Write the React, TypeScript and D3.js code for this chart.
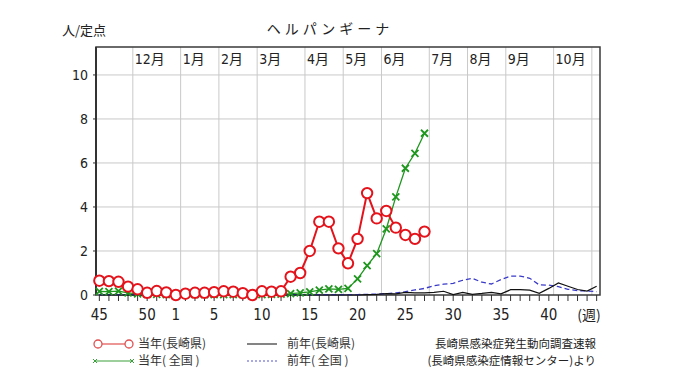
import React from "react";
import * as d3 from "d3";

const weeks = ["45","46","47","48","49","50","51","52","1","2","3","4","5","6","7","8","9","10","11","12","13","14","15","16","17","18","19","20","21","22","23","24","25","26","27","28","29","30","31","32","33","34","35","36","37","38","39","40","41","42","43","44","45"];
const weekLabels = ["45","50","1","5","10","15","20","25","30","35","40"];
const labelIdx = [0, 5, 8, 12, 17, 22, 27, 32, 37, 42, 47];
const monthLines = [3.5, 8.5, 12.5, 16.5, 21.5, 25.5, 29.5, 34.5, 38.5, 42.5, 47.5, 51.5];
const monthLabels = ["12月","1月","2月","3月","4月","5月","6月","7月","8月","9月","10月",""];
const yTicks = [0, 2, 4, 6, 8, 10];

const curNagasaki = [0.65,0.63,0.6,0.38,0.26,0.1,0.18,0.12,0.0,0.06,0.1,0.1,0.13,0.17,0.15,0.08,0.0,0.17,0.15,0.17,0.83,1.0,2.0,3.33,3.33,2.12,1.44,2.55,4.63,3.48,3.82,3.06,2.73,2.55,2.88];
const curNational = [0.16,0.15,0.18,0.1,0.05,0.03,0.03,0.02,0.02,0.02,0.02,0.02,0.02,0.02,0.02,0.02,0.02,0.02,0.03,0.04,0.06,0.1,0.14,0.22,0.28,0.26,0.3,0.73,1.33,1.88,3.0,4.46,5.76,6.44,7.35];
const prevNagasaki = [0,0,0,0,0,0,0,0,0,0,0,0,0,0,0,0,0,0,0,0,0,0,0,0,0,0,0,0,0.02,0.03,0.06,0.05,0.12,0.1,0.1,0.12,0.17,0.02,0.12,0.03,0.07,0.12,0.05,0.24,0.24,0.22,0.08,0.3,0.55,0.4,0.25,0.18,0.4];
const prevNational = [0.02,0.02,0.02,0.02,0.02,0.02,0.02,0.02,0.02,0.02,0.02,0.02,0.02,0.02,0.02,0.02,0.02,0.02,0.02,0.02,0.02,0.02,0.02,0.02,0.02,0.02,0.02,0.02,0.03,0.04,0.06,0.1,0.15,0.23,0.3,0.42,0.49,0.53,0.67,0.76,0.58,0.5,0.7,0.86,0.86,0.76,0.46,0.45,0.38,0.26,0.2,0.18,0.15];

const RED = "#e4131b";
const GREEN = "#1f971f";
const BLUE = "#3b3bc9";
const NUM = "'Liberation Sans Narrow', 'DejaVu Sans Condensed', 'Noto Sans CJK JP', sans-serif";
const JP = "'Noto Sans CJK JP', sans-serif";

export default function App() {
  const L = 96, R = 600, T = 47, B = 295;
  const x = d3.scaleLinear().domain([-0.35, 52.35]).range([L, R]);
  const y = d3.scaleLinear().domain([0, 11.27]).range([B, T]);
  const line = d3.line<number>().x((_, i) => x(i)).y((d) => y(d));

  return (
    <svg width={680} height={382} style={{ position: "absolute", left: 0, top: 0, background: "#fff" }}>
      <text x={62} y={35} fontFamily={JP} fontSize={13} fill="#222">人/定点</text>
      <text x={330} y={34} fontFamily={JP} fontSize={14} letterSpacing={4} textAnchor="middle" fill="#222">ヘルパンギーナ</text>

      {yTicks.filter((t) => t > 0).map((t) => (
        <line key={"h" + t} x1={L} x2={R} y1={y(t)} y2={y(t)} stroke="#c9c9c9" strokeWidth={1} />
      ))}
      {monthLines.map((m, i) => (
        <g key={"m" + i}>
          <line x1={x(m)} x2={x(m)} y1={T} y2={B} stroke="#c9c9c9" strokeWidth={1} />
          <text x={x(m) + 2} y={64} fontFamily={NUM} fontSize={14} fill="#222">{monthLabels[i]}</text>
        </g>
      ))}
      <rect x={L} y={T} width={R - L} height={B - T} fill="none" stroke="#3a3a3a" strokeWidth={1.5} />
      <line x1={L} x2={L} y1={T} y2={B} stroke="#333" strokeWidth={2} />

      {yTicks.map((t) => (
        <g key={"y" + t}>
          <line x1={L - 3} x2={L} y1={y(t)} y2={y(t)} stroke="#333" />
          <text x={88} y={y(t) + 5} textAnchor="end" fontFamily={NUM} fontSize={14} fill="#222">{t}</text>
        </g>
      ))}

      {weeks.map((w, i) => (
        <line key={"t" + i} x1={x(i)} x2={x(i)} y1={B} y2={B + 6} stroke="#333" strokeWidth={1} />
      ))}
      {weekLabels.map((w, i) => (
        <text key={"wl" + i} x={x(labelIdx[i])} y={320} textAnchor="middle" fontFamily={NUM} fontSize={15} fill="#222">{w}</text>
      ))}
      <text x={589} y={320} textAnchor="middle" fontFamily={JP} fontSize={14} fill="#222">(週)</text>

      <path d={line(prevNational) || ""} fill="none" stroke={BLUE} strokeWidth={1.3} strokeDasharray="5,3" />
      <path d={line(prevNagasaki) || ""} fill="none" stroke="#111" strokeWidth={1.2} />

      <path d={line(curNational) || ""} fill="none" stroke={GREEN} strokeWidth={1.3} />
      {curNational.map((d, i) => (
        <path key={"g" + i} d={`M${x(i) - 3.5},${y(d) - 3.5}L${x(i) + 3.5},${y(d) + 3.5}M${x(i) - 3.5},${y(d) + 3.5}L${x(i) + 3.5},${y(d) - 3.5}`} stroke={GREEN} strokeWidth={1.8} fill="none" />
      ))}

      <path d={line(curNagasaki) || ""} fill="none" stroke={RED} strokeWidth={2} />
      {curNagasaki.map((d, i) => (
        <circle key={"r" + i} cx={x(i)} cy={y(d)} r={5.2} fill="#fff" stroke={RED} strokeWidth={2} />
      ))}

      <g fontFamily={JP} fontSize={12} fill="#333">
        <line x1={98} x2={129} y1={344} y2={344} stroke="#e05050" strokeWidth={1.2} />
        <circle cx={98} cy={344} r={4} fill="#fff" stroke="#e05050" strokeWidth={1.3} />
        <circle cx={129} cy={344} r={4} fill="#fff" stroke="#e05050" strokeWidth={1.3} />
        <text x={138} y={348}>当年(長崎県)</text>
        <line x1={95} x2={132} y1={361} y2={361} stroke="#3aa03a" strokeWidth={1.2} />
        <path d="M93,359L97,363M93,363L97,359M130,359L134,363M130,363L134,359" stroke="#3aa03a" strokeWidth={1} />
        <text x={138} y={365}>当年( 全国 )</text>
        <line x1={247} x2={277} y1={344} y2={344} stroke="#333" strokeWidth={1.2} />
        <text x={287} y={348}>前年(長崎県)</text>
        <line x1={247} x2={277} y1={361} y2={361} stroke="#5555cc" strokeWidth={1.2} strokeDasharray="2,2" />
        <text x={287} y={365}>前年( 全国 )</text>
        <text x={596} y={348} textAnchor="end" fontSize={11.5} fill="#222">長崎県感染症発生動向調査速報</text>
        <text x={596} y={365} textAnchor="end" fontSize={11.5} fill="#222">(長崎県感染症情報センター)より</text>
      </g>
    </svg>
  );
}
